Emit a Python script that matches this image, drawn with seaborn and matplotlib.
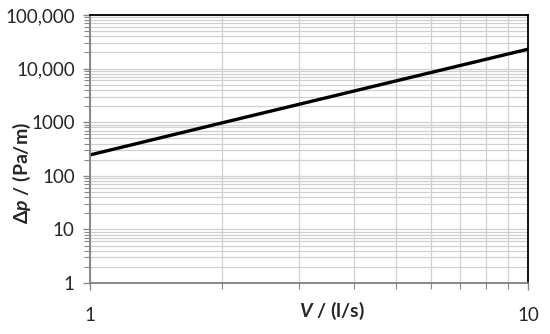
import matplotlib.pyplot as plt
import matplotlib.ticker as mticker
import seaborn as sns
import pandas as pd

# values
flow = [1, 2, 5, 10]
pressure_drop = [245, 970, 5900, 23000]
y_ticks = [1, 10, 100, 1000, 10000, 100000]
y_tick_labels = ['1', '10', '100', '1000', '10,000', '100,000']
x_ticks = [1, 10]
x_tick_labels = ['1', '10']

df = pd.DataFrame({'V': flow, 'dp': pressure_drop})

sns.set_style('white')
plt.rcParams['font.family'] = ['Lato', 'DejaVu Sans']
plt.rcParams['mathtext.fontset'] = 'custom'
plt.rcParams['mathtext.it'] = 'Lato:bold:italic'

fig = plt.figure(figsize=(5.5, 3.34), dpi=100)
ax = fig.add_axes([90 / 550, 1 - 283 / 334, 438 / 550, 268 / 334])

sns.lineplot(data=df, x='V', y='dp', color='black', linewidth=2.4, ax=ax)

ax.set_xscale('log')
ax.set_yscale('log')
ax.set_xlim(1, 10)
ax.set_ylim(1, 100000)

grid_col = '#d0d0d0'
ax.grid(True, which='major', color=grid_col, linewidth=0.9)
ax.grid(True, which='minor', color=grid_col, linewidth=0.9)
ax.set_axisbelow(True)

ax.set_yticks(y_ticks)
ax.set_yticklabels(y_tick_labels)
ax.set_xticks(x_ticks)
ax.set_xticklabels(x_tick_labels)
ax.yaxis.set_minor_locator(mticker.LogLocator(base=10, subs=range(2, 10)))
ax.xaxis.set_minor_locator(mticker.LogLocator(base=10, subs=range(2, 10)))
ax.yaxis.set_minor_formatter(mticker.NullFormatter())
ax.xaxis.set_minor_formatter(mticker.NullFormatter())

ax.tick_params(axis='both', which='major', length=5, width=1, color='#888888',
               labelsize=13.5, pad=6, direction='out', left=True, bottom=True)
ax.tick_params(axis='both', which='minor', length=4, width=0.8, color='#888888',
               direction='out', left=True, bottom=True)
ax.tick_params(axis='x', which='major', pad=12)

for side in ['left', 'bottom']:
    ax.spines[side].set_color('#808080')
    ax.spines[side].set_linewidth(1.3)
for side in ['top', 'right']:
    ax.spines[side].set_color('black')
    ax.spines[side].set_linewidth(1.3)

ax.set_xlabel(r'$\mathit{V}$ / (l/s)', fontsize=14, fontweight='bold')
ax.set_ylabel(r'Δ$\mathit{p}$ / (Pa/m)', fontsize=14, fontweight='bold')
ax.xaxis.set_label_coords(0.553, -0.065)
ax.yaxis.set_label_coords(-0.13, 0.41)

plt.savefig('out.png', dpi=100)
